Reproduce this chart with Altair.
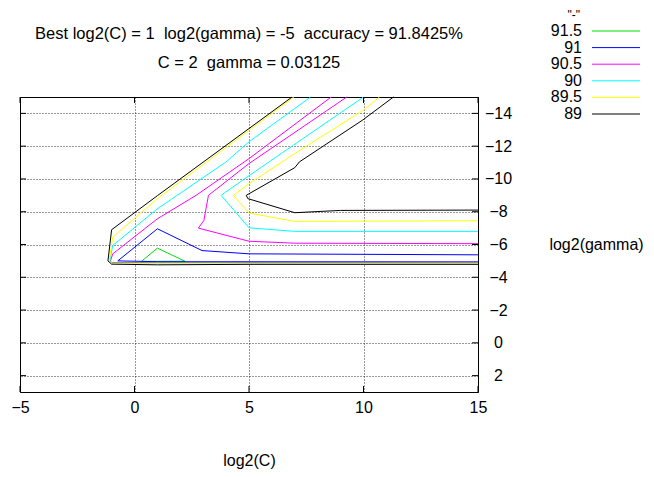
import altair as alt
import pandas as pd

FONT = "Liberation Sans"

levels = ["91.5", "91", "90.5", "90", "89.5", "89"]
colors = ["#00dd00", "#0000ff", "#ff00ff", "#00ffff", "#ffff00", "#000000"]

x_ticks = [-5, 0, 5, 10, 15]
y_ticks = [-14, -12, -10, -8, -6, -4, -2, 0, 2]

NB = "\u00a0"
title_line1 = "Best log2(C) = 1" + NB + " log2(gamma) = -5" + NB + " accuracy = 91.8425%"
title_line2 = "C = 2" + NB + " gamma = 0.03125"
legend_title = '"-"'

# contour polylines: log2(C) (x) and log2(gamma) (y)
c915_x = [0.3, 1.0, 2.2, 0.3]
c915_y = [-4.97, -5.78, -4.98, -4.97]

c91_x = [15, 5, 2.95, 1.0, -0.73, 1.0, 15]
c91_y = [-5.37, -5.43, -5.63, -6.96, -5.0, -4.95, -4.94]

c905a_x = [8.59, 5, 2.69, 1, -0.95, -1.05, -1, 15]
c905a_y = [-15, -11.24, -9, -7.57, -5.43, -5.0, -4.9, -4.9]
c905b_x = [9.27, 5, 3.23, 3.03, 2.79, 5, 7, 15]
c905b_y = [-15, -10.94, -9, -7.47, -7.0, -6.2, -6.08, -6.05]

c90a_x = [7.69, 5, 4, 1, -0.95, -1.08, -1, 15]
c90a_y = [-15, -12.27, -11.04, -8.18, -5.94, -5.0, -4.87, -4.87]
c90b_x = [10.0, 5, 3.78, 5, 7, 15]
c90b_y = [-15, -10.2, -9, -7.02, -6.8, -6.8]

c895a_x = [6.96, 1, -0.95, -1.1, -1, 1, 15]
c895a_y = [-15, -8.8, -6.45, -5.0, -4.85, -4.83, -4.84]
c895b_x = [10.7, 10, 7, 5, 4.32, 5, 7, 15]
c895b_y = [-15, -14.2, -11.55, -9.71, -9, -7.92, -7.41, -7.45]

c89a_x = [6.88, 1, -1.0, -1.16, -1, 1, 5, 15]
c89a_y = [-15, -8.98, -6.9, -5.0, -4.8, -4.76, -4.79, -4.79]
c89b_x = [11.31, 9.97, 7.2, 7, 4.88, 4.95, 7, 9, 15]
c89b_y = [-15, -13.6, -11.04, -10.69, -9, -8.8, -7.94, -8.08, -8.1]

segments = [
    ("91.5", c915_x, c915_y),
    ("91", c91_x, c91_y),
    ("90.5", c905a_x, c905a_y),
    ("90.5", c905b_x, c905b_y),
    ("90", c90a_x, c90a_y),
    ("90", c90b_x, c90b_y),
    ("89.5", c895a_x, c895a_y),
    ("89.5", c895b_x, c895b_y),
    ("89", c89a_x, c89a_y),
    ("89", c89b_x, c89b_y),
]

rows = []
for sid, (lev, xs_, ys_) in enumerate(segments):
    for i, (a, b) in enumerate(zip(xs_, ys_)):
        rows.append({"level": lev, "seg": sid, "order": i, "x": a, "y": b})
df = pd.DataFrame(rows)

W, H = 458, 295

xs = alt.Scale(domain=[-5, 15], nice=False, zero=False)
ys = alt.Scale(domain=[-15, 3], reverse=True, nice=False, zero=False)
cs = alt.Scale(domain=levels, range=colors)

xaxis = alt.Axis(values=x_ticks, grid=True, gridDash=[1, 2], gridColor="#000", gridOpacity=0.8,
                 domain=False, ticks=False, tickSize=0, labelFont=FONT, labelFontSize=16,
                 labelColor="#000", labelPadding=7, labelFlush=False, labelOverlap=False,
                 title="log2(C)", titleFont=FONT, titleFontSize=16, titleFontWeight="normal",
                 titleColor="#000", titleX=W / 2, titleY=68, titleBaseline="middle", titleAlign="center")
yaxis = alt.Axis(orient="right", values=y_ticks, grid=True, gridDash=[1, 2], gridColor="#000",
                 gridOpacity=0.8, domain=False, ticks=False, tickSize=0, labelFont=FONT,
                 labelFontSize=16, labelColor="#000", labelAlign="center", labelBaseline="middle",
                 labelPadding=20, labelOverlap=False,
                 title="log2(gamma)", titleFont=FONT, titleFontSize=16, titleFontWeight="normal",
                 titleColor="#000", titleAngle=0, titleX=118, titleY=H / 2,
                 titleAlign="center", titleBaseline="middle")

lines = alt.Chart(df).mark_line(strokeWidth=1).encode(
    x=alt.X("x:Q", scale=xs, axis=xaxis),
    y=alt.Y("y:Q", scale=ys, axis=yaxis),
    color=alt.Color("level:N", scale=cs, legend=None),
    detail="seg:N",
    order="order:Q",
)

tx = pd.DataFrame({"x": x_ticks})
ty = pd.DataFrame({"y": y_ticks})
tick_b = alt.Chart(tx).mark_rule(color="#000").encode(
    x=alt.X("x:Q", scale=xs, axis=xaxis), y=alt.value(H), y2=alt.value(H - 6))
tick_t = alt.Chart(tx).mark_rule(color="#000").encode(
    x=alt.X("x:Q", scale=xs, axis=xaxis), y=alt.value(0), y2=alt.value(6))
tick_l = alt.Chart(ty).mark_rule(color="#000").encode(
    y=alt.Y("y:Q", scale=ys, axis=yaxis), x=alt.value(0), x2=alt.value(6))
tick_r = alt.Chart(ty).mark_rule(color="#000").encode(
    y=alt.Y("y:Q", scale=ys, axis=yaxis), x=alt.value(W - 6), x2=alt.value(W))

plot = alt.layer(lines, tick_b, tick_t, tick_l, tick_r)

leg_df = pd.DataFrame({"level": levels, "rank": list(range(len(levels)))})
leg_y = alt.Y("rank:Q", scale=alt.Scale(domain=[0, 5], range=[-66, 17]), axis=None)
leg_lines = alt.Chart(leg_df).mark_rule(strokeWidth=1).encode(
    y=leg_y, x=alt.value(572), x2=alt.value(620),
    color=alt.Color("level:N", scale=cs, legend=None))
leg_text = alt.Chart(leg_df).mark_text(align="right", baseline="middle", font=FONT,
                                        fontSize=16, color="#000").encode(
    y=leg_y, x=alt.value(562), text="level:N")

tdf = pd.DataFrame({"t": [title_line1, title_line2, legend_title]})
t1 = alt.Chart(tdf).transform_filter(alt.datum.t == title_line1).mark_text(
    align="center", baseline="alphabetic", font=FONT, fontSize=16.5, color="#000").encode(
    text="t:N", x=alt.value(W / 2), y=alt.value(-58))
t2 = alt.Chart(tdf).transform_filter(alt.datum.t == title_line2).mark_text(
    align="center", baseline="alphabetic", font=FONT, fontSize=16.5, color="#000").encode(
    text="t:N", x=alt.value(W / 2), y=alt.value(-29))
t3 = alt.Chart(tdf).transform_filter(alt.datum.t == legend_title).mark_text(
    align="right", baseline="alphabetic", font=FONT, fontSize=12, color="#000").encode(
    text="t:N", x=alt.value(560), y=alt.value(-78))

chart = alt.layer(plot, leg_lines, leg_text, t1, t2, t3).resolve_scale(y="independent").properties(
    width=W, height=H,
    padding={"left": 12, "top": 89, "right": 168, "bottom": 77},
    autosize=alt.AutoSizeParams(type="none"),
    background="white",
).configure_view(stroke="#000", strokeWidth=1)

chart.save("out.html", embed_options={"renderer": "svg", "actions": False})
